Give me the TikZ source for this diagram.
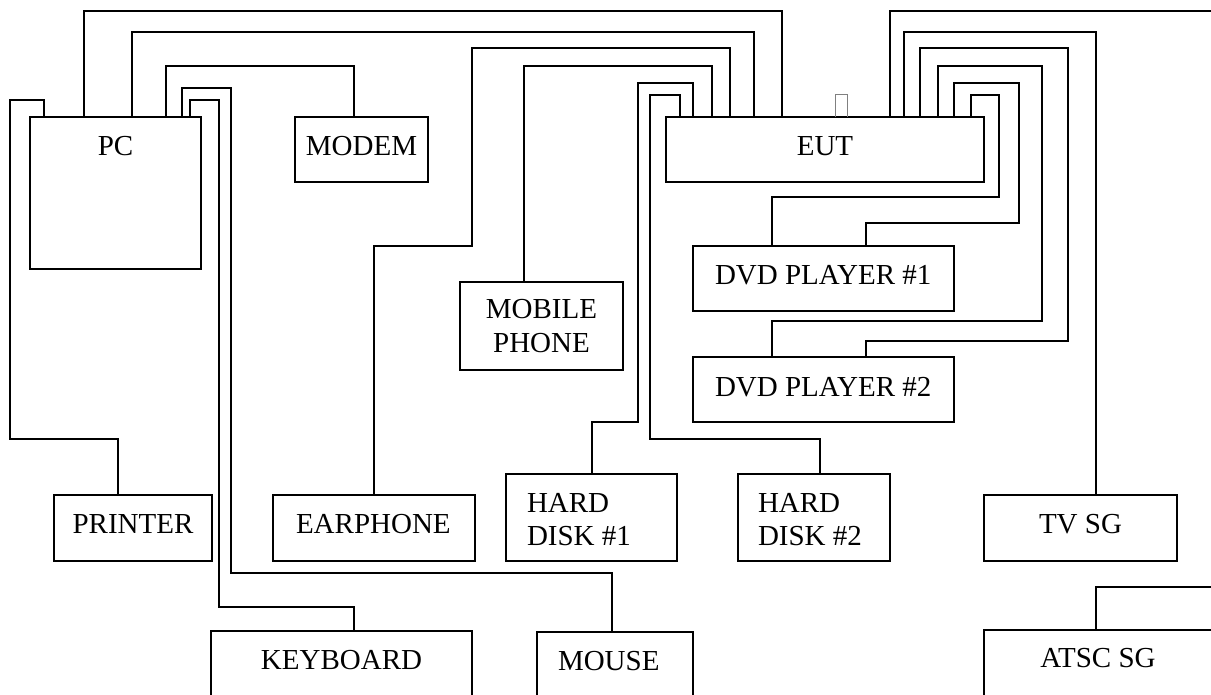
\documentclass[tikz,border=0pt]{standalone}
\usepackage{fontspec}
\setmainfont{Liberation Serif}
\begin{document}
\begin{tikzpicture}[x=1pt,y=-1pt,
  devbox/.style={draw, line width=1.4pt, inner sep=0pt, outer sep=0pt},
  wire/.style={line width=1.4pt, line join=miter},
  lbl/.style={inner sep=0pt, outer sep=0pt, font=\fontsize{29}{33}\selectfont},
  tofu/.style={draw=gray, line width=0.8pt}
]
\useasboundingbox (0,0) rectangle (1211,695);
\clip (0,0) rectangle (1211,695);
\newcommand\devnode[5]{\node[devbox, minimum width={#4pt-#2pt}, minimum height={#5pt-#3pt}] (#1) at ({(#2+#4)/2},{(#3+#5)/2}) {};}
% boxes
\devnode{pc}{30}{117}{201}{269}
\devnode{modem}{295}{117}{428}{182}
\devnode{eut}{666}{117}{984}{182}
\devnode{dvd1}{693}{246}{954}{311}
\devnode{dvd2}{693}{357}{954}{422}
\devnode{mobile}{460}{282}{623}{370}
\devnode{printer}{54}{495}{212}{561}
\devnode{earphone}{273}{495}{475}{561}
\devnode{hd1}{506}{474}{677}{561}
\devnode{hd2}{738}{474}{890}{561}
\devnode{tvsg}{984}{495}{1177}{561}
\devnode{keyboard}{211}{631}{472}{720}
\devnode{mouse}{537}{632}{693}{720}
\devnode{atsc}{984}{630}{1240}{720}
% labels
\node[lbl, anchor=base] (pc-t) at (115.5,155.6) {PC};
\node[lbl, anchor=base] (modem-t) at (361.5,155.6) {MODEM};
\node[lbl, anchor=base] (eut-t) at (825,155.6) {EUT};
\node[lbl, anchor=base west] (dvd1-t) at (715,284.6) {DVD PLAYER \#1};
\node[lbl, anchor=base west] (dvd2-t) at (715,396.6) {DVD PLAYER \#2};
\node[lbl, anchor=base] (mobile-t1) at (541.5,318.6) {MOBILE};
\node[lbl, anchor=base] (mobile-t2) at (541.5,352.6) {PHONE};
\node[lbl, anchor=base] (printer-t) at (133,533.6) {PRINTER};
\node[lbl, anchor=base west] (earphone-t) at (296,533.6) {EARPHONE};
\node[lbl, anchor=base west] (hd1-t1) at (527,512.6) {HARD};
\node[lbl, anchor=base west] (hd1-t2) at (527,545.6) {DISK \#1};
\node[lbl, anchor=base west] (hd2-t1) at (758,512.6) {HARD};
\node[lbl, anchor=base west] (hd2-t2) at (758,545.6) {DISK \#2};
\node[lbl, anchor=base] (tvsg-t) at (1080.5,533.6) {TV SG};
\node[lbl, anchor=base] (keyboard-t) at (341.5,669.6) {KEYBOARD};
\node[lbl, anchor=base west] (mouse-t) at (558,670.6) {MOUSE};
\node[lbl, anchor=base] (atsc-t) at (1098,667.6) {ATSC SG};
% small mark on EUT
\draw[tofu] (835,117) -- (835,94) -- (847,94) -- (847,117);
% free ends off the picture
\coordinate (eutfree) at (1220,11);
\coordinate (atscfree) at (1220,587);
% connectors
\draw[wire] ([xshift=54pt]pc.north west) |- (782,11) -- ([xshift=116pt]eut.north west);
\draw[wire] ([xshift=102pt]pc.north west) |- (754,32) -- ([xshift=88pt]eut.north west);
\draw[wire] ([xshift=136pt]pc.north west) |- (354,66) -- ([xshift=59pt]modem.north west);
\draw[wire] ([xshift=152pt]pc.north west) |- (231,88) |- (612,573) -- ([xshift=75pt]mouse.north west);
\draw[wire] ([xshift=160pt]pc.north west) |- (219,100) |- (354,607) -- ([xshift=143pt]keyboard.north west);
\draw[wire] ([xshift=14pt]pc.north west) |- (10,100) |- (118,439) -- ([xshift=64pt]printer.north west);
\draw[wire] ([xshift=101pt]earphone.north west) |- (472,246) |- (730,48) -- ([xshift=64pt]eut.north west);
\draw[wire] ([xshift=64pt]mobile.north west) |- (712,66) -- ([xshift=46pt]eut.north west);
\draw[wire] ([xshift=86pt]hd1.north west) |- (638,422) |- (693,83) -- ([xshift=27pt]eut.north west);
\draw[wire] ([xshift=82pt]hd2.north west) |- (650,439) |- (680,95) -- ([xshift=14pt]eut.north west);
\draw[wire] ([xshift=224pt]eut.north west) |- (eutfree);
\draw[wire] ([xshift=238pt]eut.north west) |- (1096,32) -- ([xshift=112pt]tvsg.north west);
\draw[wire] ([xshift=254pt]eut.north west) |- (1068,48) |- (866,341) -- ([xshift=173pt]dvd2.north west);
\draw[wire] ([xshift=272pt]eut.north west) |- (1042,66) |- (772,321) -- ([xshift=79pt]dvd2.north west);
\draw[wire] ([xshift=288pt]eut.north west) |- (1019,83) |- (866,223) -- ([xshift=173pt]dvd1.north west);
\draw[wire] ([xshift=305pt]eut.north west) |- (999,95) |- (772,197) -- ([xshift=79pt]dvd1.north west);
\draw[wire] ([xshift=112pt]atsc.north west) |- (atscfree);
\end{tikzpicture}
\end{document}
